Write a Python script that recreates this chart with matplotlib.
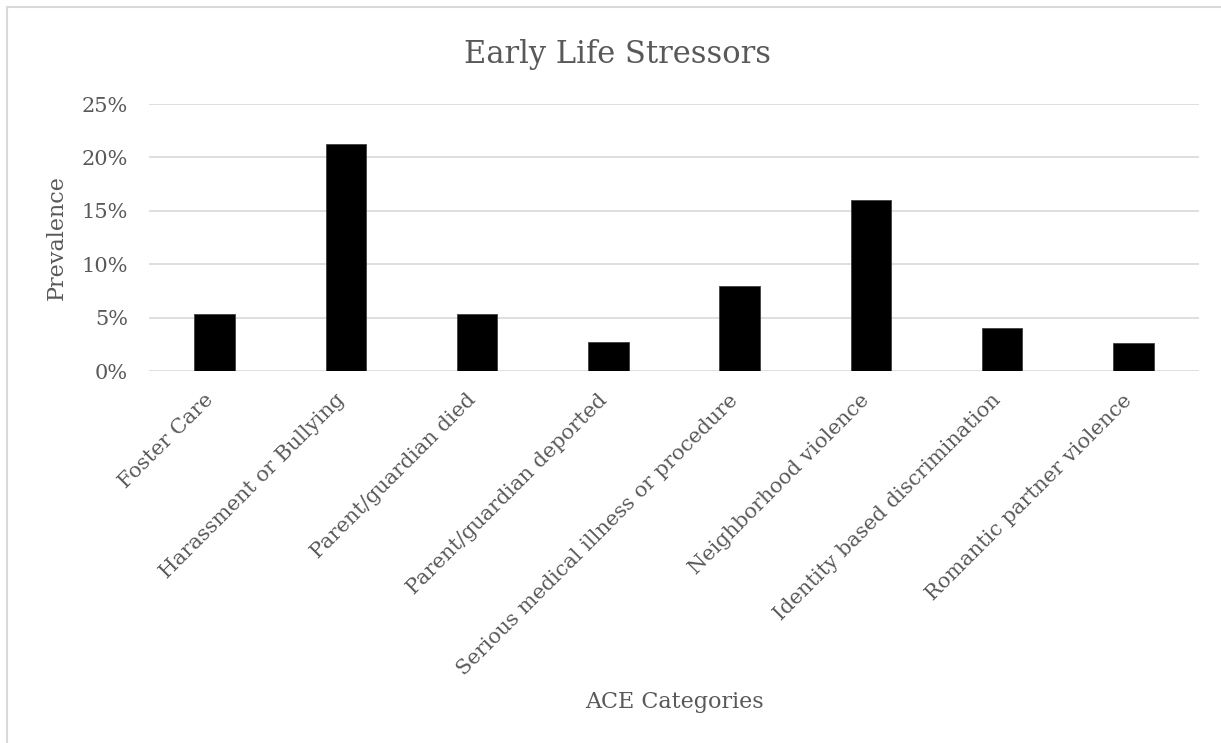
import numpy as np
import matplotlib.pyplot as plt
import matplotlib.transforms as mtransforms
from matplotlib.patches import Rectangle
from matplotlib.ticker import PercentFormatter

categories = ['Foster Care', 'Harassment or Bullying', 'Parent/guardian died',
              'Parent/guardian deported', 'Serious medical illness or procedure',
              'Neighborhood violence', 'Identity based discrimination',
              'Romantic partner violence']
prevalence = [0.053, 0.213, 0.053, 0.027, 0.080, 0.160, 0.040, 0.026]
yticks = [0, 0.05, 0.10, 0.15, 0.20, 0.25]

W, H = 1221, 743
text_gray = '#595959'
grid_gray = '#D9D9D9'
plt.rcParams['font.family'] = ['DejaVu Serif']

fig = plt.figure(figsize=(W / 100, H / 100), dpi=100)
ax = fig.add_axes([149 / W, 1 - 371 / H, (1199 - 149) / W, (371 - 104) / H])

x = np.arange(len(categories))
ax.bar(x, prevalence, width=0.31, color='black', edgecolor='#404040', linewidth=0.6, zorder=3)

ax.set_xlim(-0.5, len(categories) - 0.5)
ax.set_ylim(0, 0.25)
ax.set_yticks(yticks)
ax.yaxis.set_major_formatter(PercentFormatter(1.0, decimals=0))
ax.grid(axis='y', color=grid_gray, linewidth=1.2, zorder=0)
for s in ax.spines.values():
    s.set_visible(False)
ax.tick_params(axis='both', length=0, labelcolor=text_gray, labelsize=15)
ax.tick_params(axis='y', pad=15)
ax.set_xticks(x)
ax.set_xticklabels(categories, rotation=45, ha='right', va='top',
                   rotation_mode='anchor')
ax.tick_params(axis='x', pad=14)

# nudge the rotated labels so their ends sit on the category centre
shift = mtransforms.ScaledTranslation(-8 / 72, 0, fig.dpi_scale_trans)
for lbl in ax.get_xticklabels():
    lbl.set_transform(lbl.get_transform() + shift)

fig.text(618 / W, 1 - 63 / H, 'Early Life Stressors', ha='center', va='baseline',
         fontsize=22, color=text_gray)
fig.text(57 / W, 1 - 238 / H, 'Prevalence', rotation=90, ha='center', va='center',
         fontsize=16, color=text_gray)
fig.text(674 / W, 1 - 708 / H, 'ACE Categories', ha='center', va='baseline',
         fontsize=16, color=text_gray)

# chart area border
fig.patches.append(Rectangle((7 / W, -0.05), 1.1, 1 - 7 / H + 0.05,
                             transform=fig.transFigure, fill=False,
                             edgecolor=grid_gray, linewidth=1.5))

fig.savefig('out.png', dpi=100)
